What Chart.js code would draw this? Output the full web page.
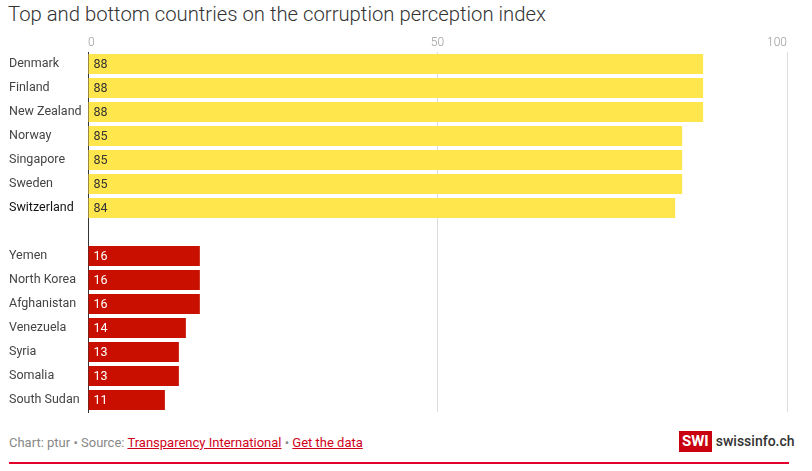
<!DOCTYPE html>
<html>
<head>
<meta charset="utf-8">
<script src="https://cdn.jsdelivr.net/npm/chart.js@4.4.0/dist/chart.umd.min.js"></script>
<style>
  body { margin: 0; width: 812px; height: 471px; background: #fff; font-family: Roboto, "Noto Sans", sans-serif; position: relative; overflow: hidden; }
  #title { position: absolute; left: 8px; top: 2px; font-size: 20.3px; font-weight: 300; color: #333; white-space: nowrap; }
  #wrap { position: absolute; left: 0; top: 31px; width: 812px; height: 390px; }
  #footer { position: absolute; left: 9px; top: 435px; font-size: 13px; color: #888; white-space: nowrap; }
  #footer a { color: #d0021b; text-decoration: underline; }
  #logo { position: absolute; left: 679px; top: 431px; height: 21px; white-space: nowrap; }
  #logo .box { display: inline-block; background: #c8000f; color: #fff; font-weight: 700; font-size: 15px; line-height: 21px; padding: 0 3px; vertical-align: top; }
  #logo .txt { display: inline-block; color: #333; font-weight: 500; font-size: 14px; line-height: 21px; margin-left: 4px; vertical-align: top; }
  #rule { position: absolute; left: 9px; top: 462px; width: 780px; height: 2px; background: #e3002b; }
</style>
</head>
<body>
<div id="title">Top and bottom countries on the corruption perception index</div>
<div id="wrap"><canvas id="chart"></canvas></div>
<div id="footer">Chart: ptur • Source: <a>Transparency International</a> • <a>Get the data</a></div>
<div id="logo"><span class="box">SWI</span><span class="txt">swissinfo.ch</span></div>
<div id="rule"></div>
<script>
const topCountries = ['Denmark', 'Finland', 'New Zealand', 'Norway', 'Singapore', 'Sweden', 'Switzerland'];
const topScores = [88, 88, 88, 85, 85, 85, 84];
const bottomCountries = ['Yemen', 'North Korea', 'Afghanistan', 'Venezuela', 'Syria', 'Somalia', 'South Sudan'];
const bottomScores = [16, 16, 16, 14, 13, 13, 11];
const axisTicks = [0, 50, 100];

const yellow = '#ffe64d';
const red = '#c80f00';

const labels = [...topCountries, '', ...bottomCountries];
const values = [...topScores, null, ...bottomScores];
const colors = [...topScores.map(() => yellow), 'rgba(0,0,0,0)', ...bottomScores.map(() => red)];

// valeurs dans les barres
const valueLabels = {
    id: 'valueLabels',
    afterDatasetsDraw(chart) {
        const ctx = chart.ctx;
        const meta = chart.getDatasetMeta(0);
        ctx.save();
        ctx.font = '12.5px Roboto, "Noto Sans", sans-serif';
        ctx.textBaseline = 'middle';
        ctx.textAlign = 'left';
        meta.data.forEach(function(bar, i) {
            if (values[i] == null) return;
            ctx.fillStyle = i < topScores.length ? '#333' : '#fff';
            ctx.fillText(values[i], bar.base + 5, bar.y + 1);
        });
        ctx.restore();
    }
};

new Chart(document.getElementById('chart'), {
    type: 'bar',
    data: {
        labels: labels,
        datasets: [{
            data: values,
            backgroundColor: colors,
            barPercentage: 0.83,
            categoryPercentage: 1
        }]
    },
    options: {
        indexAxis: 'y',
        responsive: true,
        maintainAspectRatio: false,
        animation: false,
        layout: { padding: { left: 9, right: 25, top: 0, bottom: 9 } },
        plugins: { legend: { display: false }, tooltip: { enabled: false } },
        scales: {
            x: {
                position: 'top',
                min: 0,
                max: 100,
                afterBuildTicks: function(scale) {
                    scale.ticks = axisTicks.map(v => ({ value: v }));
                },
                afterFit: function(scale) { scale.height = 21; },
                border: { display: false },
                grid: {
                    drawTicks: false,
                    color: ctx => ctx.tick && ctx.tick.value === 0 ? 'rgba(0,0,0,0)' : '#dddddd'
                },
                ticks: {
                    align: 'inner',
                    padding: 2,
                    color: '#999',
                    font: { family: 'Roboto, "Noto Sans", sans-serif', size: 12, weight: 300 }
                }
            },
            y: {
                afterFit: function(scale) { scale.width = 79; },
                border: { display: true, color: '#333', width: 1 },
                grid: { display: false },
                ticks: {
                    crossAlign: 'far',
                    padding: 0,
                    color: ctx => ctx.tick && ctx.tick.label === 'Switzerland' ? '#111' : '#444',
                    font: { family: 'Roboto, "Noto Sans", sans-serif', size: 12.5 }
                }
            }
        }
    },
    plugins: [valueLabels]
});
</script>
</body>
</html>
